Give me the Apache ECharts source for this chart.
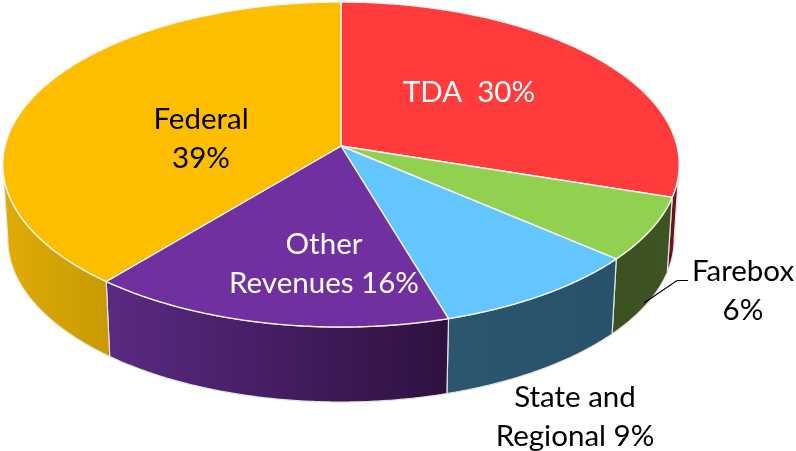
<!DOCTYPE html>
<html><head><meta charset="utf-8">
<style>html,body{margin:0;padding:0;background:#fff}#c{width:796px;height:451px}</style>
<script src="https://cdn.jsdelivr.net/npm/echarts@6/dist/echarts.min.js"></script>
</head><body><div id="c"></div>
<script>
const categories = ['TDA', 'Farebox', 'State and Regional', 'Other Revenues', 'Federal'];
const shares = [30, 6.3, 9.1, 15.6, 39];
const labelTexts = ['TDA  30%', 'Farebox\n6%', 'State and\nRegional 9%', 'Other\nRevenues 16%', 'Federal\n39%'];
const topColors = ['#FF3B3B', '#92D050', '#63C6FF', '#7030A0', '#FDBE00'];
const sideRight = ['#7A1622', '#3E5423', '#27526A', '#2E1140', '#C79903'];
const sideLeft = ['#5E0F1A', '#3C5121', '#2C566E', '#5A2A82', '#E0AC06'];
const labelColors = ['#fff', '#000', '#000', '#fff', '#000'];

const cx = 341, cy = 146, rx = 336, ry = 160.4, persp = 0.114, depth = 75, bottomScale = 0.985;
const labelSpots = [[469, 92], [743, 291], [575, 417], [324, 264], [201, 139]];
const rimStart = 96.5, rimEnd = 263.5;
const total = shares.reduce((a, b) => a + b, 0);
const starts = [];
shares.reduce((acc, s, i) => { starts[i] = acc; return acc + s; }, 0);

function project(deg, lower) {
  const r = deg * Math.PI / 180, u = Math.sin(r), v = -Math.cos(r), w = 1 - persp * v;
  const x = rx * u / w, y = cy + ry * v / w;
  return lower ? [cx + x * bottomScale, y + depth] : [cx + x, y];
}
function arc(a0, a1, lower) {
  const n = Math.max(2, Math.ceil(Math.abs(a1 - a0) * 2)), pts = [];
  for (let i = 0; i <= n; i++) pts.push(project(a0 + (a1 - a0) * i / n, lower));
  return pts;
}
function range(i) {
  return [starts[i] / total * 360, (starts[i] + shares[i]) / total * 360];
}
const data = shares.map((s, i) => ({ name: categories[i], value: s }));

const chart = echarts.init(document.getElementById('c'), null, { renderer: 'canvas' });
chart.setOption({
  animation: false,
  backgroundColor: '#fff',
  series: [
    {
      type: 'custom', coordinateSystem: 'none', z: 1, data, silent: true,
      renderItem(p) {
        const i = p.dataIndex, [a, b] = range(i);
        const a0 = Math.max(a, rimStart), a1 = Math.min(b, rimEnd);
        if (a1 <= a0) return { type: 'group', children: [] };
        return {
          type: 'polygon', shape: { points: arc(a0, a1, false).concat(arc(a1, a0, true)) },
          style: {
            fill: new echarts.graphic.LinearGradient(0, 0, 1, 0, [
              { offset: 0, color: sideLeft[i] }, { offset: 1, color: sideRight[i] }
            ]),
            stroke: '#E4E4E4', lineWidth: 1.2
          }
        };
      }
    },
    {
      type: 'custom', coordinateSystem: 'none', z: 2, data, silent: true,
      renderItem(p) {
        const [a, b] = range(p.dataIndex);
        return {
          type: 'polygon', shape: { points: [[cx, cy]].concat(arc(a, b, false)) },
          style: { fill: topColors[p.dataIndex], stroke: '#F4F4F4', lineWidth: 1.4 }
        };
      }
    },
    {
      type: 'custom', coordinateSystem: 'none', z: 3, data, silent: true,
      renderItem(p) {
        const i = p.dataIndex, kids = [{
          type: 'text',
          style: {
            text: labelTexts[i], x: labelSpots[i][0], y: labelSpots[i][1],
            align: 'center', verticalAlign: 'middle', fill: labelColors[i],
            font: '29.5px Lato, "Open Sans", sans-serif', lineHeight: 39
          }
        }];
        if (categories[i] === 'Farebox') {
          kids.push({
            type: 'polyline',
            shape: { points: [[644, 303], [677, 280.5], [688, 280.5]] },
            style: { stroke: '#000', lineWidth: 1.2, fill: null }
          });
        }
        return { type: 'group', children: kids };
      }
    }
  ]
});
</script></body></html>
